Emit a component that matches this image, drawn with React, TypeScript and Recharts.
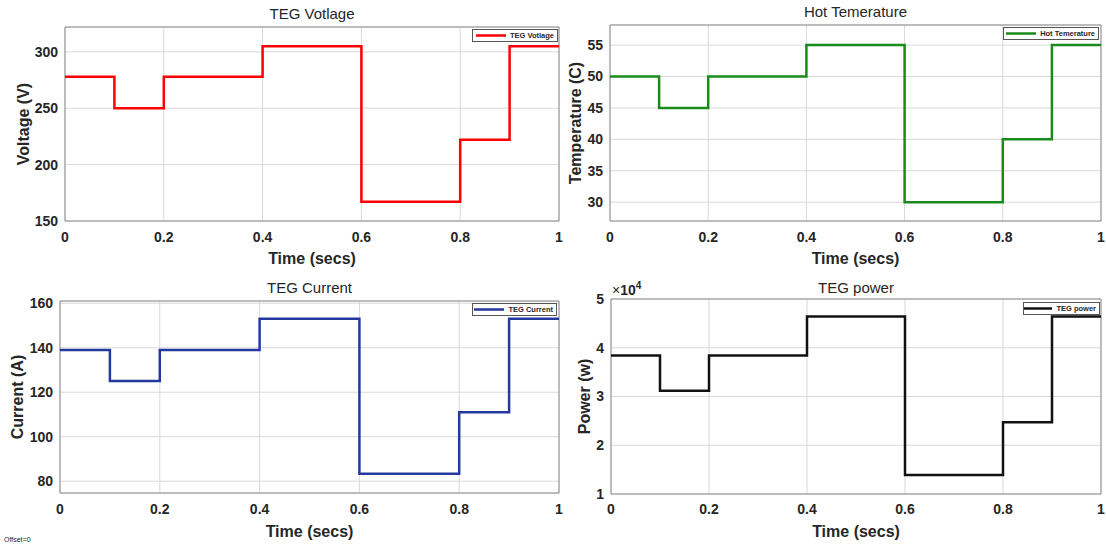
import React from 'react';
import { LineChart, Line, XAxis, YAxis, CartesianGrid, ReferenceArea, Legend } from 'recharts';

// step times (secs) and the level held from each time until the next
const times = [0, 0.1, 0.2, 0.4, 0.6, 0.8, 0.9, 1.0];
const voltage = [278, 250, 278, 305, 167, 222, 305, 305];
const temperature = [50, 45, 50, 55, 30, 40, 55, 55];
const current = [139, 125, 139, 153, 83.3, 111, 153, 153];
const power = [38400, 31200, 38400, 46400, 13900, 24700, 46400, 46400];

const timeTicks = [0, 0.2, 0.4, 0.6, 0.8, 1];
const voltageTicks = [150, 200, 250, 300];
const temperatureTicks = [30, 35, 40, 45, 50, 55];
const currentTicks = [80, 100, 120, 140, 160];
const powerTicks = [10000, 20000, 30000, 40000, 50000];

const font = '"Liberation Sans", Arial, Helvetica, sans-serif';
const ink = '#262626';

type Box = { l: number; t: number; r: number; b: number };

interface PanelProps {
  x0: number;
  y0: number;
  w: number;
  h: number;
  plot: Box;
  values: number[];
  color: string;
  domain: [number, number];
  ticks: number[];
  title: string;
  titleY: number;
  yLabel: string;
  yLabelX: number;
  xLabelY: number;
  xTickGap: number;
  name: string;
  legend: { x: number; y: number; w: number };
  fmt?: (v: number) => string;
}

const Panel = (p: PanelProps) => {
  const data = times.map((t, i) => ({ t, v: p.values[i] }));
  const margin = { top: p.plot.t - p.y0, right: p.x0 + p.w - p.plot.r, left: 0, bottom: 0 };
  const yw = p.plot.l - p.x0;
  const xh = p.y0 + p.h - p.plot.b;
  const tickStyle = { fill: ink, fontSize: 14, fontWeight: 'bold', fontFamily: font };

  return (
    <>
      <div
        style={{
          position: 'absolute',
          left: (p.plot.l + p.plot.r) / 2 - 150,
          width: 300,
          top: p.titleY - 9,
          textAlign: 'center',
          fontSize: 15,
          color: ink,
          lineHeight: '18px',
        }}
      >
        {p.title}
      </div>
      <div style={{ position: 'absolute', left: p.x0, top: p.y0, width: p.w, height: p.h }}>
        <LineChart width={p.w} height={p.h} data={data} margin={margin}>
          <CartesianGrid stroke="#d9d9d9" strokeWidth={1} />
          <ReferenceArea
            x1={0}
            x2={1}
            y1={p.domain[0]}
            y2={p.domain[1]}
            fill="none"
            stroke="#8c8c8c"
            strokeWidth={1}
            fillOpacity={0}
          />
          <XAxis
            dataKey="t"
            type="number"
            domain={[0, 1]}
            ticks={timeTicks}
            height={xh}
            axisLine={false}
            tickLine={false}
            tickSize={0}
            tickMargin={p.xTickGap}
            tick={tickStyle}
            interval={0}
            label={{
              content: (lp: any) => {
                const vb = lp.viewBox || { x: 0, width: 0 };
                return (
                  <text
                    x={vb.x + vb.width / 2}
                    y={p.xLabelY - p.y0}
                    textAnchor="middle"
                    dominantBaseline="central"
                    fontFamily={font}
                    fontSize={16}
                    fontWeight="bold"
                    fill={ink}
                  >
                    Time (secs)
                  </text>
                );
              },
            }}
          />
          <YAxis
            type="number"
            domain={p.domain}
            ticks={p.ticks}
            width={yw}
            axisLine={false}
            tickLine={false}
            tickSize={0}
            tickMargin={7}
            tick={tickStyle}
            interval={0}
            allowDataOverflow
            tickFormatter={p.fmt}
            label={{
              content: (lp: any) => {
                const vb = lp.viewBox || { y: 0, height: 0 };
                const cy = vb.y + vb.height / 2;
                const cx = p.yLabelX - p.x0;
                return (
                  <text
                    x={cx}
                    y={cy}
                    transform={`rotate(-90, ${cx}, ${cy})`}
                    textAnchor="middle"
                    dominantBaseline="central"
                    fontFamily={font}
                    fontSize={16}
                    fontWeight="bold"
                    fill={ink}
                  >
                    {p.yLabel}
                  </text>
                );
              },
            }}
          />
          <Legend
            layout="horizontal"
            verticalAlign="middle"
            align="center"
            wrapperStyle={{ left: p.legend.x - p.x0, top: p.legend.y - p.y0, width: p.legend.w, height: 13 }}
            content={() => (
              <div
                style={{
                  width: p.legend.w,
                  height: 13,
                  boxSizing: 'border-box',
                  border: '1px solid #555',
                  background: '#fff',
                  display: 'flex',
                  alignItems: 'center',
                  justifyContent: 'flex-end',
                  paddingRight: 3,
                  fontFamily: font,
                  fontSize: 7.5,
                  fontWeight: 'bold',
                  color: ink,
                }}
              >
                <svg width={30} height={11} style={{ marginRight: 4 }}>
                  <line x1={0} y1={5.5} x2={30} y2={5.5} stroke={p.color} strokeWidth={2.5} />
                </svg>
                <span style={{ whiteSpace: 'nowrap' }}>{p.name}</span>
              </div>
            )}
          />
          <Line
            type="stepAfter"
            dataKey="v"
            name={p.name}
            stroke={p.color}
            strokeWidth={2.5}
            dot={false}
            activeDot={false}
            isAnimationActive={false}
          />
        </LineChart>
      </div>
    </>
  );
};

const App = () => {
  return (
    <div
      style={{
        position: 'absolute',
        left: 0,
        top: 0,
        width: 1106,
        height: 546,
        background: '#fff',
        fontFamily: font,
        overflow: 'hidden',
      }}
    >
      <style>{'.recharts-surface { overflow: visible; }'}</style>
      <Panel
        x0={0}
        y0={0}
        w={560}
        h={270}
        plot={{ l: 65, t: 27, r: 559, b: 221 }}
        values={voltage}
        color="#ff0000"
        domain={[150, 322]}
        ticks={voltageTicks}
        title="TEG Votlage"
        titleY={14}
        yLabel="Voltage (V)"
        yLabelX={23}
        xLabelY={258}
        xTickGap={11}
        name="TEG Votlage"
        legend={{ x: 472, y: 29, w: 86 }}
      />
      <Panel
        x0={550}
        y0={0}
        w={556}
        h={270}
        plot={{ l: 610, t: 25, r: 1101, b: 221 }}
        values={temperature}
        color="#1a8a1a"
        domain={[27, 58.2]}
        ticks={temperatureTicks}
        title="Hot Temerature"
        titleY={12}
        yLabel="Temperature (C)"
        yLabelX={575}
        xLabelY={258}
        xTickGap={11}
        name="Hot Temerature"
        legend={{ x: 1003, y: 27, w: 96 }}
      />
      <Panel
        x0={0}
        y0={272}
        w={560}
        h={274}
        plot={{ l: 60, t: 301, r: 559, b: 493 }}
        values={current}
        color="#2339a0"
        domain={[74.7, 161]}
        ticks={currentTicks}
        title="TEG Current"
        titleY={288}
        yLabel="Current (A)"
        yLabelX={17}
        xLabelY={531}
        xTickGap={11}
        name="TEG Current"
        legend={{ x: 472, y: 303, w: 85 }}
      />
      <Panel
        x0={550}
        y0={272}
        w={556}
        h={274}
        plot={{ l: 611, t: 299, r: 1101, b: 494 }}
        values={power}
        color="#111111"
        domain={[10000, 50000]}
        ticks={powerTicks}
        title="TEG power"
        titleY={288}
        yLabel="Power (w)"
        yLabelX={584}
        xLabelY={531}
        xTickGap={10}
        name="TEG power"
        legend={{ x: 1023, y: 302, w: 77 }}
        fmt={(v: number) => String(v / 10000)}
      />
      <div
        style={{
          position: 'absolute',
          left: 612,
          top: 281,
          fontSize: 14,
          lineHeight: '18px',
          color: ink,
          whiteSpace: 'nowrap',
        }}
      >
        ×<b>10</b>
        <sup style={{ fontSize: 10, fontWeight: 'bold', verticalAlign: 'top', position: 'relative', top: -4 }}>4</sup>
      </div>
      <div style={{ position: 'absolute', left: 4, top: 536, fontSize: 7, lineHeight: '8px', color: ink }}>
        Offset=0
      </div>
    </div>
  );
};

export default App;
